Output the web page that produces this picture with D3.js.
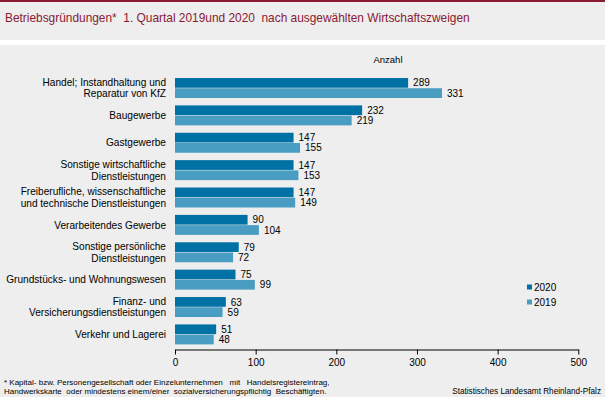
<!DOCTYPE html>
<html>
<head>
<meta charset="utf-8">
<script src="https://cdn.jsdelivr.net/npm/d3@7"></script>
<style>
html,body{margin:0;padding:0;background:#fff;}
svg{display:block;font-family:"Liberation Sans",Arial,sans-serif;}
</style>
</head>
<body>
<svg id="chart" width="605" height="397"></svg>
<script>
const categories = [
  ["Handel; Instandhaltung und", "Reparatur von KfZ"],
  ["Baugewerbe"],
  ["Gastgewerbe"],
  ["Sonstige wirtschaftliche", "Dienstleistungen"],
  ["Freiberufliche, wissenschaftliche", "und technische Dienstleistungen"],
  ["Verarbeitendes Gewerbe"],
  ["Sonstige persönliche", "Dienstleistungen"],
  ["Grundstücks- und Wohnungswesen"],
  ["Finanz- und", "Versicherungsdienstleistungen"],
  ["Verkehr und Lagerei"]
];
const seriesNames = ["2020", "2019"];
const values2020 = [289, 232, 147, 147, 147, 90, 79, 75, 63, 51];
const values2019 = [331, 219, 155, 153, 149, 104, 72, 99, 59, 48];
const xTicks = [0, 100, 200, 300, 400, 500];
const colors = ["#0071a4", "#4a9dc2"];

const svg = d3.select("#chart");
const W = 605, H = 397;

// backgrounds
svg.append("rect").attr("x",0).attr("y",0).attr("width",W).attr("height",H).attr("fill","#ffffff");
svg.append("rect").attr("x",0).attr("y",2).attr("width",W).attr("height",38).attr("fill","#edeeed");
svg.append("rect").attr("x",0).attr("y",45).attr("width",W).attr("height",H-45).attr("fill","#edeeed");
svg.append("rect").attr("x",0).attr("y",0).attr("width",W).attr("height",2).attr("fill","#8a1a33");

// title
svg.append("text").attr("x",5).attr("y",22).attr("font-size",11.9).attr("fill","#8a1a33")
  .attr("xml:space","preserve")
  .text("Betriebsgründungen*  1. Quartal 2019und 2020  nach ausgewählten Wirtschaftszweigen");

const keys = categories.map(c => c.join(" "));
const x = d3.scaleLinear().domain([0, 500]).range([175, 578.3]);
const y = d3.scaleBand().domain(keys).range([78, 344.4]).paddingInner(0.27).paddingOuter(0);
const ys = d3.scaleBand().domain(seriesNames).range([0, y.bandwidth()]).paddingInner(0.05);

// Anzahl
svg.append("text").attr("x",388).attr("y",63).attr("text-anchor","middle")
  .attr("font-size",9.5).attr("fill","#000").text("Anzahl");

const data = [];
keys.forEach((k,i) => {
  data.push({cat:k, s:"2020", v:values2020[i], c:colors[0]});
  data.push({cat:k, s:"2019", v:values2019[i], c:colors[1]});
});

svg.append("g").selectAll("rect").data(data).join("rect")
  .attr("x", x(0))
  .attr("y", d => y(d.cat) + ys(d.s))
  .attr("width", d => x(d.v) - x(0))
  .attr("height", ys.bandwidth())
  .attr("fill", d => d.c);

svg.append("g").selectAll("text").data(data).join("text")
  .attr("x", d => x(d.v) + 5)
  .attr("y", d => y(d.cat) + ys(d.s) + ys.bandwidth()/2)
  .attr("dy","0.36em")
  .attr("font-size",10).attr("fill","#000")
  .text(d => d.v);

// category labels
const lab = svg.append("g");
categories.forEach((lines,i) => {
  const cy = y(keys[i]) + y.bandwidth()/2;
  const lh = 11.5;
  lines.forEach((ln,j) => {
    lab.append("text")
      .attr("x",166)
      .attr("y", cy + (j - (lines.length-1)/2)*lh)
      .attr("dy","0.36em")
      .attr("text-anchor","end")
      .attr("font-size",10.1).attr("fill","#000")
      .text(ln);
  });
});

// axis
const axis = d3.axisBottom(x).tickValues(xTicks).tickSize(5).tickPadding(4).tickSizeOuter(0);
const ag = svg.append("g").attr("transform","translate(0,349.5)").call(axis);
ag.select(".domain").attr("stroke","#000");
ag.selectAll(".tick line").attr("stroke","#000");
ag.selectAll(".tick text").attr("font-size",10).attr("fill","#000").attr("font-family","Liberation Sans, Arial, sans-serif");

// legend
const lg = svg.append("g");
seriesNames.forEach((s,i) => {
  const ly = 287 + i*15;
  lg.append("rect").attr("x",527).attr("y",ly-2.5).attr("width",5).attr("height",5).attr("fill",colors[i]);
  lg.append("text").attr("x",534).attr("y",ly).attr("dy","0.36em").attr("font-size",10).attr("fill","#000").text(s);
});

// footnote
svg.append("text").attr("x",4).attr("y",385).attr("font-size",8).attr("fill","#000")
  .attr("xml:space","preserve")
  .text("* Kapital- bzw. Personengesellschaft oder Einzelunternehmen   mit   Handelsregistereintrag,");
svg.append("text").attr("x",4).attr("y",393.5).attr("font-size",8).attr("fill","#000")
  .attr("xml:space","preserve")
  .text("Handwerkskarte  oder mindestens einem/einer  sozialversicherungspflichtig  Beschäftigten.");
svg.append("text").attr("x",601).attr("y",394).attr("text-anchor","end").attr("font-size",8.2).attr("fill","#000")
  .text("Statistisches Landesamt Rheinland-Pfalz");
</script>
</body>
</html>
